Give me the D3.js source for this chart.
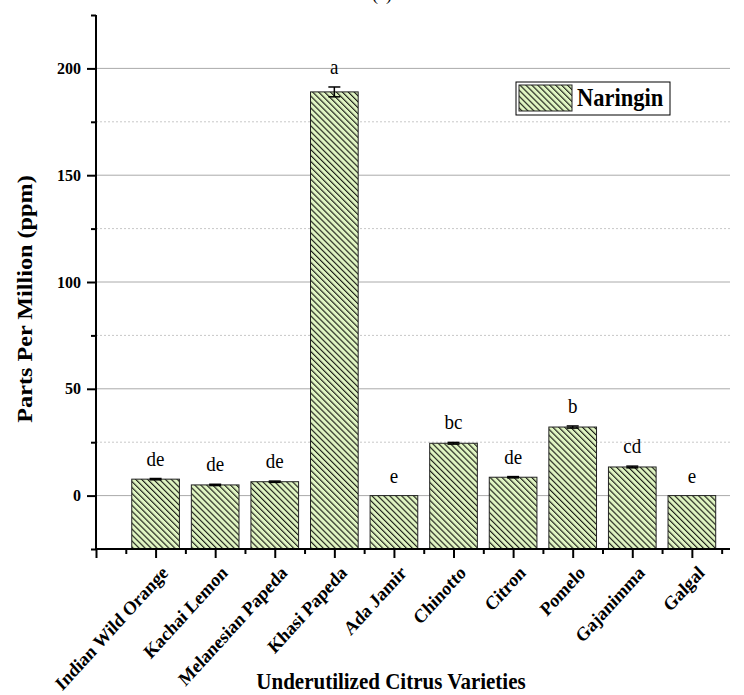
<!DOCTYPE html>
<html>
<head>
<meta charset="utf-8">
<script src="https://cdn.jsdelivr.net/npm/d3@7"></script>
<style>
  body { margin: 0; background: #fff; }
  svg text { font-family: 'Liberation Serif', 'DejaVu Serif', serif !important; }
</style>
</head>
<body>
<div id="chart"></div>
<script>
// data
const categories = ['Indian Wild Orange', 'Kachai Lemon', 'Melanesian Papeda', 'Khasi Papeda',
  'Ada Jamir', 'Chinotto', 'Citron', 'Pomelo', 'Gajanimma', 'Galgal']
const values = [7.7, 5.0, 6.5, 189.0, 0, 24.5, 8.6, 32.1, 13.4, 0]
const errors = [0.3, 0.3, 0.3, 2.3, 0, 0.4, 0.3, 0.5, 0.4, 0]
const letters = ['de', 'de', 'de', 'a', 'e', 'bc', 'de', 'b', 'cd', 'e']
const yMajor = [0, 50, 100, 150, 200]
const yMinor = [-25, 25, 75, 125, 175, 225]

const W = 744, H = 695
const mLeft = 96, mRight = 730, mTop = 15, mBottom = 549
// the source figure is slightly stretched vertically
const stretch = 'scale(1,1.1)'

const svg = d3.select('#chart')
  .append('svg')
  .attr('width', W)
  .attr('height', H)

const defs = svg.append('defs')
const pat = defs.append('pattern')
  .attr('id', 'hatch')
  .attr('patternUnits', 'userSpaceOnUse')
  .attr('width', 4.2)
  .attr('height', 4.2)
  .attr('patternTransform', 'rotate(-45)')
pat.append('rect').attr('width', 4.2).attr('height', 4.2).attr('fill', '#e0f5c2')
pat.append('line')
  .attr('x1', 0.6).attr('y1', 0).attr('x2', 0.6).attr('y2', 4.2)
  .attr('stroke', '#000').attr('stroke-width', 1)

const x = d3.scaleLinear().domain([0, 10.64]).range([mLeft, mRight])
const y = d3.scaleLinear().domain([-25, 225]).range([mBottom, mTop])
const barW = x(0.8) - x(0)

// grid
svg.append('g')
  .selectAll('line')
  .data(yMinor.filter(d => d > -25 && d < 225))
  .enter()
  .append('line')
  .attr('x1', mLeft).attr('x2', mRight)
  .attr('y1', d => y(d)).attr('y2', d => y(d))
  .attr('stroke', '#c8c8c8')
  .attr('stroke-dasharray', '2,2')

svg.append('g')
  .selectAll('line')
  .data(yMajor)
  .enter()
  .append('line')
  .attr('x1', mLeft).attr('x2', mRight)
  .attr('y1', d => y(d)).attr('y2', d => y(d))
  .attr('stroke', '#aaa')
  .attr('stroke-width', 1)

// bars
const bar = svg.append('g')
  .selectAll('g')
  .data(categories)
  .enter()
  .append('g')

bar.append('rect')
  .attr('x', (d, i) => x(i + 1) - barW / 2)
  .attr('y', (d, i) => y(values[i]))
  .attr('width', barW)
  .attr('height', (d, i) => y(-25) - y(values[i]))
  .attr('fill', 'url(#hatch)')
  .attr('stroke', '#222')
  .attr('stroke-width', 1)

// error bars
bar.filter((d, i) => errors[i] > 0).each(function (d) {
  const i = categories.indexOf(d)
  const g = d3.select(this)
  const cx = x(i + 1)
  g.append('line')
    .attr('x1', cx).attr('x2', cx)
    .attr('y1', y(values[i] - errors[i])).attr('y2', y(values[i] + errors[i]))
    .attr('stroke', '#000').attr('stroke-width', 1.5)
  ;[values[i] - errors[i], values[i] + errors[i]].forEach(v => {
    g.append('line')
      .attr('x1', cx - 6).attr('x2', cx + 6)
      .attr('y1', y(v)).attr('y2', y(v))
      .attr('stroke', '#000').attr('stroke-width', 1.5)
  })
})

bar.append('text')
  .text((d, i) => letters[i])
  .attr('transform', (d, i) => `translate(${x(i + 1)},${y(values[i] + errors[i]) - 13}) ${stretch}`)
  .attr('text-anchor', 'middle')
  .style('font-size', '19px')

// y axis
const yAxis = svg.append('g')
  .attr('transform', `translate(${mLeft},0)`)
  .call(d3.axisLeft(y).tickValues(yMajor).tickSize(9).tickPadding(6))
yAxis.select('.domain').remove()
yAxis.selectAll('line').attr('stroke', '#000').attr('stroke-width', 2)
yAxis.selectAll('text')
  .attr('fill', '#000')
  .style('font-size', '16px')
  .style('font-weight', 'bold')

svg.append('g')
  .attr('transform', `translate(${mLeft},0)`)
  .call(d3.axisLeft(y).tickValues(yMinor).tickSize(5).tickFormat(''))
  .call(g => g.select('.domain').remove())
  .selectAll('line').attr('stroke', '#000').attr('stroke-width', 2)

// x axis
const xAxis = svg.append('g')
  .attr('transform', `translate(0,${mBottom})`)
  .call(d3.axisBottom(x).tickValues(d3.range(0, 11)).tickSize(9)
    .tickFormat(d => d >= 1 ? categories[d - 1] : ''))
xAxis.select('.domain').remove()
xAxis.selectAll('line').attr('stroke', '#000').attr('stroke-width', 2)
xAxis.selectAll('text')
  .attr('fill', '#000')
  .attr('text-anchor', 'end')
  .attr('dy', 0)
  .attr('y', 0)
  .attr('transform', `translate(13,25) ${stretch} rotate(-45)`)
  .style('font-size', '17.5px')
  .style('font-weight', 'bold')

svg.append('g')
  .attr('transform', `translate(0,${mBottom})`)
  .call(d3.axisBottom(x).tickValues(d3.range(0.5, 11, 1)).tickSize(5).tickFormat(''))
  .call(g => g.select('.domain').remove())
  .selectAll('line').attr('stroke', '#000').attr('stroke-width', 2)

svg.append('line')
  .attr('x1', mLeft).attr('x2', mLeft)
  .attr('y1', mTop).attr('y2', mBottom + 1)
  .attr('stroke', '#000').attr('stroke-width', 2)
svg.append('line')
  .attr('x1', mLeft - 1).attr('x2', mRight)
  .attr('y1', mBottom).attr('y2', mBottom)
  .attr('stroke', '#000').attr('stroke-width', 2)

// titles
svg.append('text')
  .text('(a)')
  .attr('transform', `translate(382,0) ${stretch}`)
  .attr('text-anchor', 'middle')
  .style('font-size', '18px')

svg.append('text')
  .text('Underutilized Citrus Varieties')
  .attr('transform', `translate(391,689) ${stretch}`)
  .attr('text-anchor', 'middle')
  .style('font-size', '21px')
  .style('font-weight', 'bold')

svg.append('text')
  .text('Parts Per Million (ppm)')
  .attr('transform', `translate(32,299) ${stretch} rotate(-90)`)
  .attr('text-anchor', 'middle')
  .style('font-size', '22px')
  .style('font-weight', 'bold')

// legend
const lg = svg.append('g').attr('transform', 'translate(516,82)')
lg.append('rect')
  .attr('width', 154).attr('height', 33)
  .attr('fill', '#fff').attr('stroke', '#000').attr('stroke-width', 1)
lg.append('rect')
  .attr('x', 3).attr('y', 3).attr('width', 53).attr('height', 26)
  .attr('fill', 'url(#hatch)').attr('stroke', '#222')
lg.append('text')
  .text('Naringin')
  .attr('transform', `translate(61,24) ${stretch}`)
  .style('font-size', '22.5px')
  .style('font-weight', 'bold')
</script>
</body>
</html>
